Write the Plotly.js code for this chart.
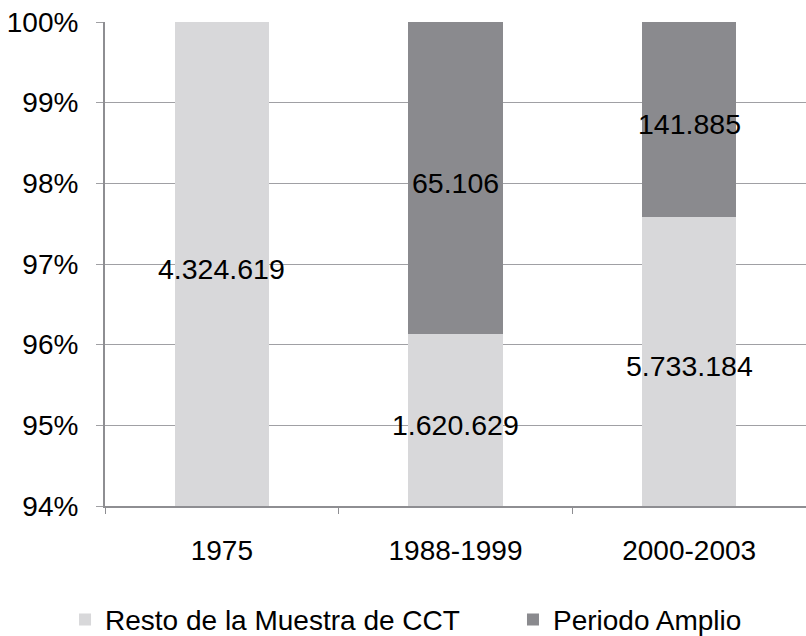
<!DOCTYPE html>
<html>
<head>
<meta charset="utf-8">
<script src="https://cdn.plot.ly/plotly-3.0.1.min.js"></script>
<style>html,body{margin:0;padding:0;background:#fff;}#chart{width:806px;height:636px;}</style>
</head>
<body>
<div id="chart"></div>
<script>
const categories = ['1975', '1988-1999', '2000-2003'];
const restoValues = [4324619, 1620629, 5733184];
const amplioValues = [0, 65106, 141885];
const seriesNames = ['Resto de la Muestra de CCT', 'Periodo Amplio'];
const yTickVals = [94, 95, 96, 97, 98, 99, 100];
const yTickText = ['94%', '95%', '96%', '97%', '98%', '99%', '100%'];

const yRange = [94, 100];
const FONT = 'Liberation Sans, Arial, Helvetica, sans-serif';
const FS = 28;
const lightGray = '#d8d8da';
const darkGray = '#8a8a8e';

function fmt(v) { return String(v).replace(/\B(?=(\d{3})+(?!\d))/g, '.'); }

// value labels: middle of the visible part of each segment (x = category index)
const annotations = [];
categories.forEach((c, i) => {
  const tot = restoValues[i] + amplioValues[i];
  const split = restoValues[i] / tot * 100;
  const segs = [[0, split, restoValues[i]], [split, 100, amplioValues[i]]];
  segs.forEach(([a, b, v]) => {
    if (!v) return;
    const lo = Math.max(a, yRange[0]), hi = Math.min(b, yRange[1]);
    if (hi <= lo) return;
    annotations.push({x: i, y: (lo + hi) / 2, xref: 'x', yref: 'y', text: fmt(v),
      showarrow: false, yshift: -5, font: {family: FONT, size: 28.5, color: '#000'}});
  });
});

const data = [
  {type: 'bar', x: categories, y: restoValues, name: seriesNames[0],
   marker: {color: lightGray}, hoverinfo: 'skip', legend: 'legend'},
  {type: 'bar', x: categories, y: amplioValues, name: seriesNames[1],
   marker: {color: darkGray}, hoverinfo: 'skip', legend: 'legend2'}
];

const legendBase = {orientation: 'h', xanchor: 'left', yanchor: 'middle', y: -0.235,
  font: {family: FONT, size: FS, color: '#000'}, bgcolor: 'rgba(0,0,0,0)', borderwidth: 0};

const layout = {
  width: 806, height: 636,
  margin: {l: 105, r: 0, t: 22, b: 130, autoexpand: false},
  paper_bgcolor: '#fff', plot_bgcolor: '#fff',
  barmode: 'stack', barnorm: 'percent', bargap: 0.595,
  font: {family: FONT, size: FS, color: '#000'},
  showlegend: true,
  legend: Object.assign({}, legendBase, {x: -0.057}),
  legend2: Object.assign({}, legendBase, {x: 0.582}),
  annotations: annotations,
  xaxis: {type: 'category', categoryorder: 'array', categoryarray: categories,
          range: [-0.5, categories.length - 0.5],
          showline: true, linecolor: '#8e8e92', linewidth: 2,
          ticks: 'outside', tickson: 'boundaries', ticklen: 6, tickwidth: 1, tickcolor: '#8e8e92',
          showgrid: false, zeroline: false, ticklabelstandoff: 18,
          tickfont: {family: FONT, size: FS, color: '#000'}},
  yaxis: {range: yRange, tickvals: yTickVals, ticktext: yTickText,
          showline: true, linecolor: '#8e8e92', linewidth: 2,
          ticks: 'outside', ticklen: 7, tickwidth: 1, tickcolor: '#a0a0a4',
          showgrid: true, gridcolor: '#a0a0a4', gridwidth: 1, zeroline: false,
          ticklabelstandoff: 12,
          tickfont: {family: FONT, size: FS, color: '#000'}}
};

Plotly.newPlot('chart', data, layout, {displayModeBar: false, staticPlot: true});
</script>
</body>
</html>
